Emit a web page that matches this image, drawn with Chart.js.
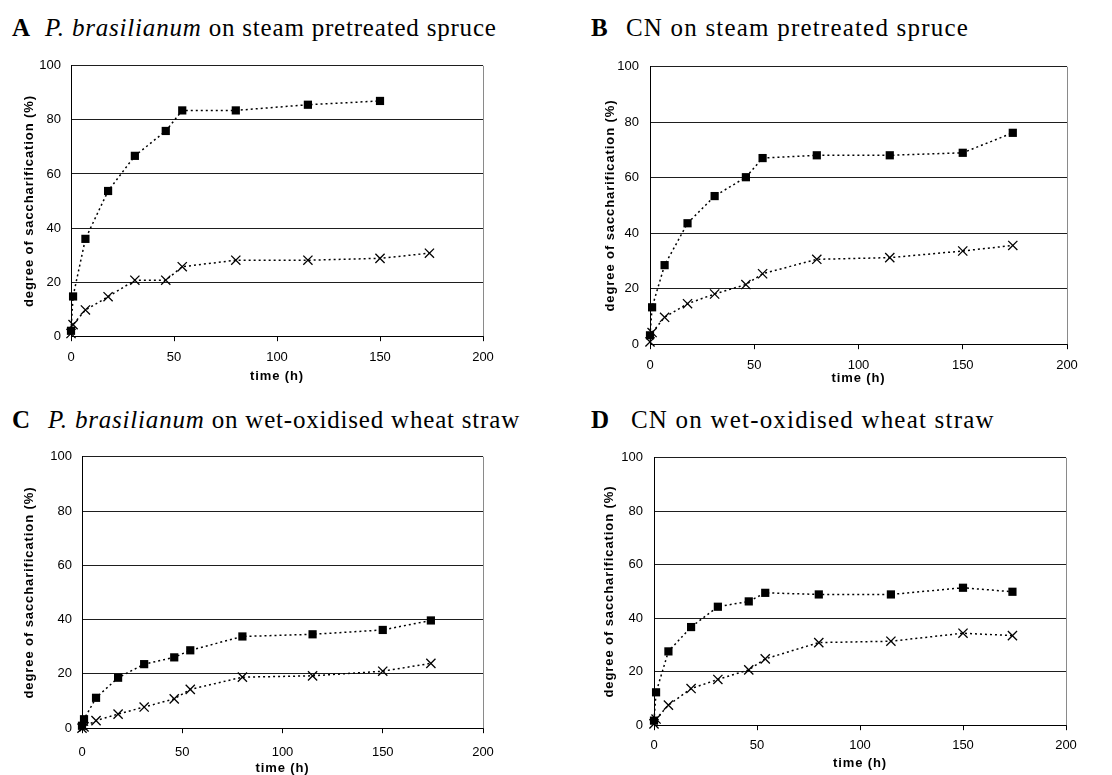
<!DOCTYPE html>
<html>
<head>
<meta charset="utf-8">
<script src="https://cdn.jsdelivr.net/npm/chart.js@4/dist/chart.umd.min.js"></script>
<style>
  body { margin: 0; background: #fff; width: 1112px; height: 775px; position: relative; overflow: hidden; }
  .ttl { position: absolute; font-family: "Liberation Serif", serif; font-size: 25px; line-height: 25px;
         white-space: nowrap; color: #000; letter-spacing: 0.8px; }
  .ttl.key { font-weight: bold; letter-spacing: 0; }
  .box { position: absolute; }
  canvas { display: block; }
</style>
</head>
<body>
<div class="ttl key" style="left:12px;top:15px">A</div>
<div class="ttl" style="left:45px;top:15px"><i>P. brasilianum</i> on steam pretreated spruce</div>
<div class="ttl key" style="left:591px;top:15px">B</div>
<div class="ttl" style="left:626px;top:15px;letter-spacing:1.2px">CN on steam pretreated spruce</div>
<div class="ttl key" style="left:12px;top:407px">C</div>
<div class="ttl" style="left:48px;top:407px"><i>P. brasilianum</i> on wet-oxidised wheat straw</div>
<div class="ttl key" style="left:591px;top:407px">D</div>
<div class="ttl" style="left:631px;top:407px;letter-spacing:1.2px">CN on wet-oxidised wheat straw</div>

<script>
// Sampling times (h) shared by all four experiments
const hours = [0, 1, 7, 18, 31, 46, 54, 80, 115, 150, 174];

// Degree of saccharification (%) – squares and crosses for each panel
const sprucePbSquares = [2, 14.7, 36, 53.7, 66.7, 75.9, 83.5, 83.5, 85.6, 87, null];
const sprucePbCrosses = [1, 4.3, 9.7, 14.6, 20.7, 20.7, 25.7, 28.1, 28.1, 28.8, 30.7];
const spruceCnSquares = [3.2, 13.3, 28.5, 43.6, 53.4, 60.2, 67.1, 68.1, 68.1, 69, 76.2];
const spruceCnCrosses = [0.8, 4.2, 9.7, 14.6, 18.1, 21.5, 25.4, 30.6, 31.2, 33.6, 35.6];
const strawPbSquares = [0.9, 3.3, 11.2, 18.6, 23.6, 26.1, 28.7, 33.8, 34.6, 36.2, 39.7];
const strawPbCrosses = [0, 0.5, 2.8, 5.2, 7.8, 10.8, 14.3, 18.8, 19.3, 21, 23.9];
const strawCnSquares = [1.7, 12.3, 27.6, 36.7, 44.3, 46.3, 49.5, 48.9, 48.9, 51.4, 49.9];
const strawCnCrosses = [0.5, 2.3, 7.5, 13.7, 17.1, 20.7, 24.8, 30.9, 31.4, 34.4, 33.5];

// Axis ticks
const xTicks = [0, 50, 100, 150, 200];
const yTicks = [0, 20, 40, 60, 80, 100];

const yTitle = 'degree of saccharification (%)';
const xTitle = 'time (h)';

// Panel frames (plot rectangle in page pixels and label offsets)
const panels = [
  { sq: sprucePbSquares, cr: sprucePbCrosses, l: 71,  t: 63,  r: 483,  b: 336, yTitleX: 29,  xTickGap: 8,  xTitleY: 376, yTickGap: 10 },
  { sq: spruceCnSquares, cr: spruceCnCrosses, l: 650, t: 63,  r: 1067, b: 344, yTitleX: 610, xTickGap: 8,  xTitleY: 378, yTickGap: 11 },
  { sq: strawPbSquares,  cr: strawPbCrosses,  l: 82,  t: 454, r: 483,  b: 728, yTitleX: 29,  xTickGap: 11, xTitleY: 768, yTickGap: 10 },
  { sq: strawCnSquares,  cr: strawCnCrosses,  l: 654, t: 454, r: 1066, b: 725, yTitleX: 609, xTickGap: 7,  xTitleY: 763, yTickGap: 11 }
];

const toPoints = vals => hours.map((h, i) => ({ x: h, y: vals[i] })).filter(p => p.y !== null);

// Light grey right-hand frame of the plot area
const rightFrame = {
  id: 'rightFrame',
  afterDraw(chart) {
    const { ctx, chartArea: a } = chart;
    ctx.save();
    ctx.strokeStyle = '#8a8a8a';
    ctx.lineWidth = 1;
    const x = Math.round(a.right) + 0.5;
    ctx.beginPath();
    ctx.moveTo(x, a.top);
    ctx.lineTo(x, a.bottom);
    ctx.stroke();
    ctx.restore();
  }
};

// Axis titles are set slightly letter-spaced
function spacedTitle(scale) {
  if (scale._spacedTitle) return;
  scale._spacedTitle = true;
  const base = Object.getPrototypeOf(scale).drawTitle;
  scale.drawTitle = function () {
    const ctx = this.ctx;
    const prev = ctx.letterSpacing;
    ctx.letterSpacing = '0.9px';
    base.call(this);
    ctx.letterSpacing = prev || '0px';
  };
}

const tickFont = { family: '"Liberation Sans", Arial, sans-serif', size: 13 };
const titleFont = { family: '"Liberation Sans", Arial, sans-serif', size: 13, weight: 'bold' };
const LH = 13 * 1.2;

panels.forEach(p => {
  const canvasLeft = Math.round(p.yTitleX - 10);
  const canvasTop = p.t - 15;
  const yWidth = p.l - canvasLeft;
  const xHeight = p.xTitleY - p.b + LH / 2;
  const padRight = 25;
  const w = p.r - canvasLeft + padRight;
  const h = Math.ceil(p.b + xHeight - canvasTop + 2);

  const box = document.createElement('div');
  box.className = 'box';
  box.style.left = canvasLeft + 'px';
  box.style.top = canvasTop + 'px';
  const cv = document.createElement('canvas');
  cv.width = w;
  cv.height = h;
  cv.style.width = w + 'px';
  cv.style.height = h + 'px';
  box.appendChild(cv);
  document.body.appendChild(box);

  const line = {
    borderColor: '#000',
    borderWidth: 1.5,
    borderDash: [2, 3],
    tension: 0,
    fill: false,
    clip: false
  };

  new Chart(cv, {
    type: 'line',
    data: {
      datasets: [
        Object.assign({ data: toPoints(p.cr), pointStyle: 'crossRot', pointRadius: 6.5,
          pointBorderColor: '#000', pointBorderWidth: 1.3, pointBackgroundColor: '#000' }, line),
        Object.assign({ data: toPoints(p.sq), pointStyle: 'rect', pointRadius: 5.8,
          pointBorderColor: '#000', pointBorderWidth: 0, pointBackgroundColor: '#000' }, line)
      ]
    },
    options: {
      responsive: false,
      animation: false,
      events: [],
      layout: { padding: { left: 0, top: 15, right: padRight, bottom: 2 } },
      plugins: { legend: { display: false }, tooltip: { enabled: false } },
      scales: {
        x: {
          type: 'linear',
          min: xTicks[0],
          max: xTicks[xTicks.length - 1],
          afterBuildTicks: s => { s.ticks = xTicks.map(v => ({ value: v })); },
          afterFit: s => { s.height = xHeight; spacedTitle(s); },
          grid: { drawOnChartArea: false, drawTicks: true, tickLength: 5, color: '#000' },
          border: { color: '#000', width: 1 },
          ticks: { font: tickFont, color: '#000', padding: p.xTickGap, maxRotation: 0 },
          title: { display: true, text: xTitle, font: titleFont, color: '#000', padding: { top: 0, bottom: 0 } }
        },
        y: {
          type: 'linear',
          min: yTicks[0],
          max: yTicks[yTicks.length - 1],
          afterBuildTicks: s => { s.ticks = yTicks.map(v => ({ value: v })); },
          afterFit: s => { s.width = yWidth; spacedTitle(s); },
          grid: { color: '#1e1e1e', lineWidth: 1, drawTicks: false },
          border: { color: '#000', width: 1 },
          ticks: { font: tickFont, color: '#000', padding: p.yTickGap },
          title: { display: true, text: yTitle, font: titleFont, color: '#000',
                   padding: { top: p.yTitleX - canvasLeft - LH / 2, bottom: 0 } }
        }
      }
    },
    plugins: [rightFrame]
  });
});
</script>
</body>
</html>
